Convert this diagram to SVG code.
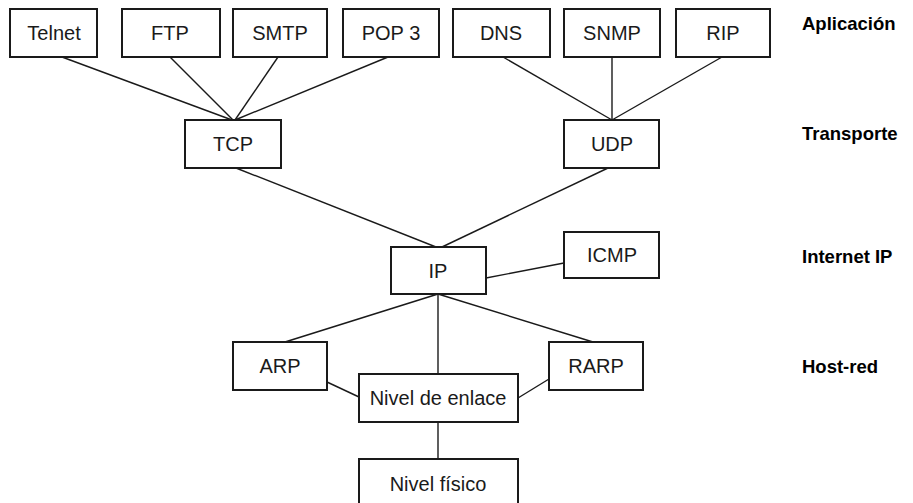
<svg xmlns="http://www.w3.org/2000/svg" width="913" height="503" viewBox="0 0 913 503">
<style>
.box rect{fill:#fff;stroke:#1a1a1a;stroke-width:2}
.box text{font-family:"Liberation Sans",Arial,sans-serif;font-size:20px;fill:#1a1a1a;text-anchor:middle}
.conn line{stroke:#1a1a1a;stroke-width:1.4}
.layer{font-family:"Liberation Sans",Arial,sans-serif;font-size:18.5px;font-weight:bold;fill:#000}
</style>
<rect width="913" height="503" fill="#fff"/>
<g id="connectors" class="conn">
<line x1="62" y1="57" x2="232" y2="120"/>
<line x1="170" y1="57" x2="233" y2="120"/>
<line x1="278" y1="57" x2="235" y2="120"/>
<line x1="388" y1="57" x2="235" y2="120"/>
<line x1="503" y1="57" x2="612" y2="120"/>
<line x1="612" y1="57" x2="612" y2="120"/>
<line x1="722" y1="57" x2="612" y2="120"/>
<line x1="236" y1="168" x2="436" y2="247"/>
<line x1="608" y1="168" x2="442" y2="247"/>
<line x1="564" y1="263" x2="486" y2="278"/>
<line x1="438" y1="294" x2="285" y2="342"/>
<line x1="438" y1="294" x2="593" y2="342"/>
<line x1="438" y1="294" x2="438" y2="374"/>
<line x1="327" y1="382" x2="359" y2="397"/>
<line x1="549" y1="379" x2="518" y2="398"/>
<line x1="438" y1="422" x2="438" y2="459"/>
</g>
<g id="telnet" class="box"><rect x="10" y="9" width="87" height="48"/><text x="54" y="40">Telnet</text></g>
<g id="ftp" class="box"><rect x="122" y="9" width="98" height="48"/><text x="170" y="40">FTP</text></g>
<g id="smtp" class="box"><rect x="233" y="9" width="94" height="48"/><text x="280" y="40">SMTP</text></g>
<g id="pop3" class="box"><rect x="343" y="9" width="96" height="48"/><text x="391" y="40">POP 3</text></g>
<g id="dns" class="box"><rect x="453" y="9" width="97" height="48"/><text x="501" y="40">DNS</text></g>
<g id="snmp" class="box"><rect x="564" y="9" width="96" height="48"/><text x="612" y="40">SNMP</text></g>
<g id="rip" class="box"><rect x="676" y="9" width="94" height="48"/><text x="723" y="40">RIP</text></g>
<g id="tcp" class="box"><rect x="185" y="120" width="96" height="48"/><text x="233" y="151">TCP</text></g>
<g id="udp" class="box"><rect x="564" y="120" width="95" height="48"/><text x="612" y="151">UDP</text></g>
<g id="ip" class="box"><rect x="391" y="247" width="95" height="47"/><text x="438" y="278">IP</text></g>
<g id="icmp" class="box"><rect x="564" y="232" width="95" height="46"/><text x="612" y="262">ICMP</text></g>
<g id="arp" class="box"><rect x="233" y="342" width="94" height="48"/><text x="280" y="373">ARP</text></g>
<g id="rarp" class="box"><rect x="549" y="342" width="94" height="48"/><text x="596" y="373">RARP</text></g>
<g id="enlace" class="box"><rect x="359" y="374" width="159" height="48"/><text x="438" y="405">Nivel de enlace</text></g>
<g id="fisico" class="box"><rect x="359" y="459" width="159" height="60"/><text x="438" y="491">Nivel físico</text></g>
<g id="layers">
<text class="layer" x="802" y="30">Aplicación</text>
<text class="layer" x="802" y="140">Transporte</text>
<text class="layer" x="802" y="263">Internet IP</text>
<text class="layer" x="802" y="373">Host-red</text>
</g>
</svg>
